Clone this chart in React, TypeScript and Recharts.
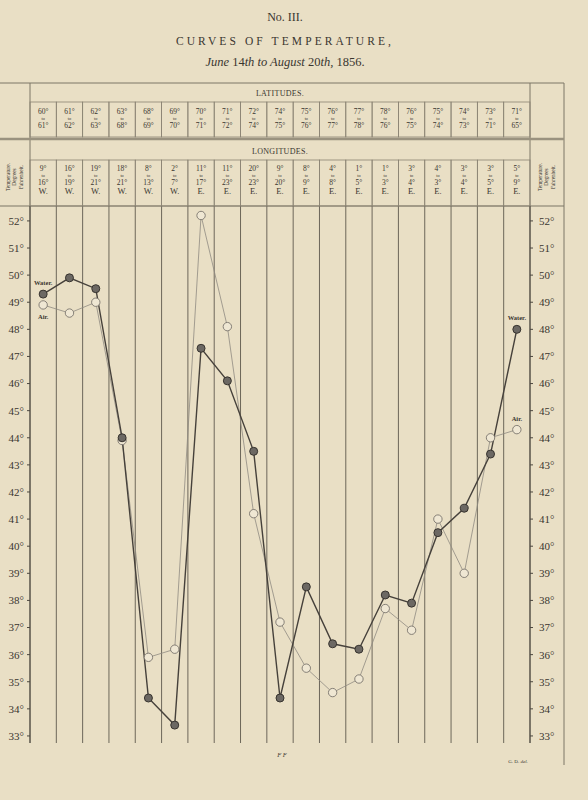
import { CartesianGrid, Line, LineChart, XAxis, YAxis } from "recharts";

// columns of the plate: latitude range, longitude range and hemisphere
const latFrom = [60, 61, 62, 63, 68, 69, 70, 71, 72, 74, 75, 76, 77, 78, 76, 75, 74, 73, 71];
const latTo = [61, 62, 63, 68, 69, 70, 71, 72, 74, 75, 76, 77, 78, 76, 75, 74, 73, 71, 65];
const lonFrom = [9, 16, 19, 18, 8, 2, 11, 11, 20, 9, 8, 4, 1, 1, 3, 4, 3, 3, 5];
const lonTo = [16, 19, 21, 21, 13, 7, 17, 23, 23, 20, 9, 8, 5, 3, 4, 3, 4, 5, 9];
const lonDir = ["W.", "W.", "W.", "W.", "W.", "W.", "E.", "E.", "E.", "E.", "E.", "E.", "E.", "E.", "E.", "E.", "E.", "E.", "E."];

// degrees Fahrenheit
const water = [49.3, 49.9, 49.5, 44.0, 34.4, 33.4, 47.3, 46.1, 43.5, 34.4, 38.5, 36.4, 36.2, 38.2, 37.9, 40.5, 41.4, 43.4, 48.0];
const air = [48.9, 48.6, 49.0, 43.9, 35.9, 36.2, 52.2, 48.1, 41.2, 37.2, 35.5, 34.6, 35.1, 37.7, 36.9, 41.0, 39.0, 44.0, 44.3];

const degreeTicks = [33, 34, 35, 36, 37, 38, 39, 40, 41, 42, 43, 44, 45, 46, 47, 48, 49, 50, 51, 52];

const rows = water.map((w, i) => ({ pos: i + 0.5, water: w, air: air[i] }));
const colEdges = Array.from({ length: water.length + 1 }, (_, i) => i);
const colCenters = water.map((_, i) => i + 0.5);

const PAPER = "#e9dfc5";
const INK = "#4d4840";
const TEXT = "#3a3630";
const FONT = "'Liberation Serif', 'DejaVu Serif', serif";
const CELL_W = 500 / 19;

function HeadTick(props: any) {
  const { x, payload } = props;
  const i = Math.round(payload.value - 0.5);
  const left = x - CELL_W / 2;
  return (
    <g fontFamily={FONT} textAnchor="middle">
      <rect x={left} y={102} width={CELL_W} height={35} fill="none" stroke="#8a8373" strokeWidth={0.8} />
      <text x={x} y={114} fontSize={7.5} fill={TEXT}>{latFrom[i]}°</text>
      <text x={x} y={120} fontSize={4.3} fill={TEXT}>to</text>
      <text x={x} y={127.8} fontSize={7.5} fill={TEXT}>{latTo[i]}°</text>
      <rect x={left} y={160} width={CELL_W} height={46} fill="none" stroke="#8a8373" strokeWidth={0.8} />
      <text x={x} y={170.5} fontSize={7.5} fill={TEXT}>{lonFrom[i]}°</text>
      <text x={x} y={176.6} fontSize={4.3} fill={TEXT}>to</text>
      <text x={x} y={184.5} fontSize={7.5} fill={TEXT}>{lonTo[i]}°</text>
      <text x={x} y={193.5} fontSize={8.5} fill={TEXT}>{lonDir[i]}</text>
    </g>
  );
}

function sideLabel(name: string, first: number, last: number) {
  return (p: any) => {
    const { x, y, index } = p;
    if (index !== 0 && index !== water.length - 1) return null;
    const dy = index === 0 ? first : last;
    return (
      <text key={`${name}-${index}`} x={x} y={y + dy} textAnchor="middle" fontFamily={FONT} fontSize={6.5} fontWeight="bold" fill={TEXT}>
        {name}
      </text>
    );
  };
}

function Plate() {
  return (
    <svg width={588} height={800} style={{ position: "absolute", left: 0, top: 0 }} fontFamily={FONT} fill={TEXT}>
      <text x={285} y={21} fontSize={12} textAnchor="middle">No. III.</text>
      <text x={285} y={45} fontSize={11.5} textAnchor="middle" letterSpacing={3.1}>CURVES OF TEMPERATURE,</text>
      <text x={285} y={66} fontSize={12.5} textAnchor="middle">
        <tspan fontStyle="italic">June </tspan>14<tspan fontStyle="italic">th to August </tspan>20<tspan fontStyle="italic">th,</tspan> 1856.
      </text>
      <g stroke="#7d7667" fill="none">
        <line x1={0} y1={83} x2={564} y2={83} strokeWidth={1} />
        <line x1={30} y1={83} x2={30} y2={206} strokeWidth={1} />
        <line x1={530} y1={83} x2={530} y2={206} strokeWidth={1} />
        <line x1={564} y1={83} x2={564} y2={765} strokeWidth={1} />
        <line x1={0} y1={139} x2={564} y2={139} strokeWidth={2.5} stroke="#9a927f" />
        <line x1={0} y1={206} x2={564} y2={206} strokeWidth={1.2} />
      </g>
      <text x={280} y={96} fontSize={8} textAnchor="middle" letterSpacing={0.3}>LATITUDES.</text>
      <text x={280} y={154} fontSize={8} textAnchor="middle" letterSpacing={0.3}>LONGITUDES.</text>
      {[
        { cx: 15, cy: 177 },
        { cx: 547, cy: 177 },
      ].map((c, k) => (
        <text key={k} transform={`translate(${c.cx},${c.cy}) rotate(-90)`} fontSize={5.3} textAnchor="middle">
          <tspan x={0} dy={-5.2}>Temperature.</tspan>
          <tspan x={0} dy={6.4}>Degrees</tspan>
          <tspan x={0} dy={6.4}>Fahrenheit.</tspan>
        </text>
      ))}
      <text x={282} y={757} fontSize={6.5} fontStyle="italic" textAnchor="middle">F F</text>
      <text x={518} y={763} fontSize={5} textAnchor="middle">G. D. <tspan fontStyle="italic">del.</tspan></text>
    </svg>
  );
}

export default function App() {
  return (
    <div style={{ position: "relative", width: 588, height: 800, background: PAPER }}>
      <style>{`body{margin:0;background:${PAPER}}`}</style>
      <Plate />
      <div style={{ position: "absolute", left: 0, top: 0 }}>
        <LineChart width={588} height={800} data={rows} margin={{ top: 83, right: 0, bottom: 57, left: 0 }}>
          <CartesianGrid vertical horizontal={false} stroke="#5f594e" strokeWidth={0.9} />
          <XAxis dataKey="pos" type="number" domain={[0, 19]} allowDataOverflow ticks={colEdges} hide />
          <XAxis
            xAxisId="head"
            dataKey="pos"
            orientation="top"
            type="number"
            domain={[0, 19]}
            allowDataOverflow
            ticks={colCenters}
            interval={0}
            height={123}
            axisLine={false}
            tickLine={false}
            tick={<HeadTick />}
          />
          <YAxis
            yAxisId="left"
            type="number"
            domain={[32.74, 52.55]}
            allowDataOverflow
            ticks={degreeTicks}
            interval={0}
            width={30}
            tickSize={3}
            tickMargin={3}
            axisLine={{ stroke: INK }}
            tickLine={{ stroke: INK }}
            tick={{ fontFamily: FONT, fontSize: 11, fill: TEXT }}
            tickFormatter={(v: number) => `${v}°`}
          />
          <YAxis
            yAxisId="right"
            orientation="right"
            type="number"
            domain={[32.74, 52.55]}
            allowDataOverflow
            ticks={degreeTicks}
            interval={0}
            width={58}
            tickSize={3}
            tickMargin={6}
            axisLine={{ stroke: INK }}
            tickLine={{ stroke: INK }}
            tick={{ fontFamily: FONT, fontSize: 11, fill: TEXT, textAnchor: "start" }}
            tickFormatter={(v: number) => `${v}°`}
          />
          <Line
            yAxisId="left"
            dataKey="air"
            type="linear"
            stroke="#8f8a82"
            strokeWidth={0.8}
            dot={{ r: 4.2, fill: "#efe7d3", stroke: "#79746c", strokeWidth: 0.9 }}
            label={sideLabel("Air.", 14, -9)}
            isAnimationActive={false}
          />
          <Line
            yAxisId="left"
            dataKey="water"
            type="linear"
            stroke="#46413b"
            strokeWidth={1.4}
            dot={{ r: 4, fill: "#6c6863", stroke: "#38342f", strokeWidth: 1 }}
            label={sideLabel("Water.", -9, -9)}
            isAnimationActive={false}
          />
        </LineChart>
      </div>
    </div>
  );
}
